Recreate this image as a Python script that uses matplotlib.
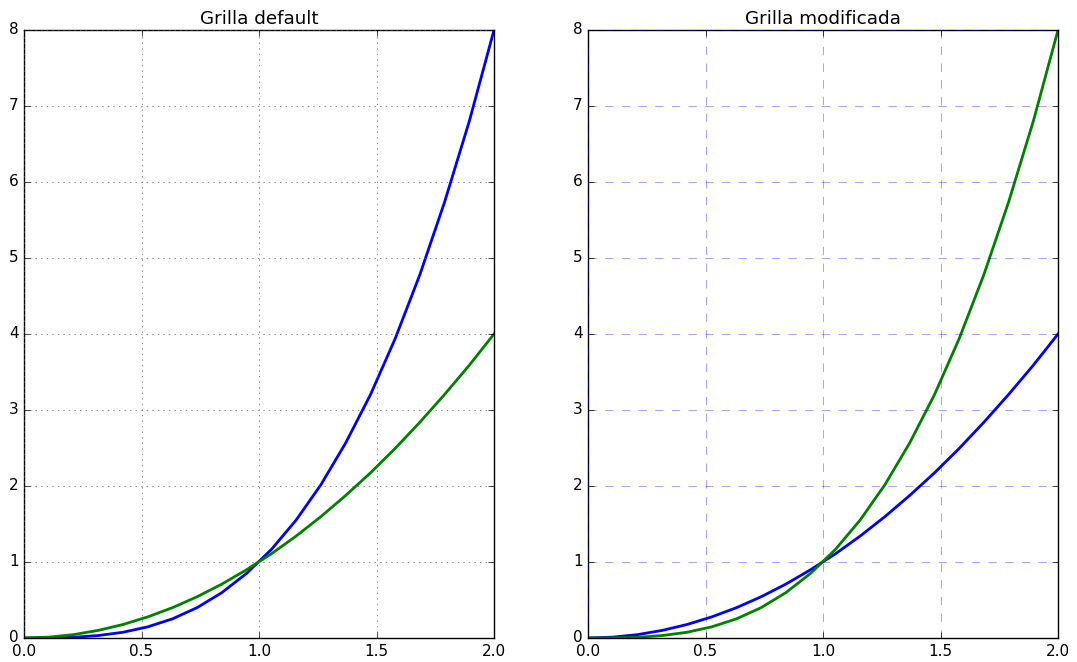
import matplotlib
matplotlib.use('Agg')
import matplotlib.pyplot as plt

plt.style.use('classic')
plt.rcParams['font.size'] = 11

# valores (20 puntos entre 0 y 2)
x = [0.0, 0.105, 0.211, 0.316, 0.421, 0.526, 0.632, 0.737, 0.842, 0.947,
     1.053, 1.158, 1.263, 1.368, 1.474, 1.579, 1.684, 1.789, 1.895, 2.0]
y_cuad = [0.0, 0.011, 0.044, 0.100, 0.177, 0.277, 0.399, 0.543, 0.709, 0.898,
          1.108, 1.341, 1.596, 1.873, 2.172, 2.493, 2.837, 3.202, 3.590, 4.0]
y_cubo = [0.0, 0.001, 0.009, 0.032, 0.075, 0.146, 0.252, 0.400, 0.597, 0.850,
          1.166, 1.552, 2.015, 2.562, 3.200, 3.936, 4.777, 5.730, 6.802, 8.0]

fig, axes = plt.subplots(1, 2, figsize=(10.77, 6.62), dpi=100, facecolor='white')
fig.subplots_adjust(left=0.0223, right=0.9824, bottom=0.0363, top=0.9547, wspace=0.2)

axes[0].plot(x, y_cubo, color='b', lw=2)
axes[0].plot(x, y_cuad, color='g', lw=2)
axes[0].grid(True, color='0.35')
axes[0].set_title('Grilla default', pad=4.5)

axes[1].plot(x, y_cuad, color='b', lw=2)
axes[1].plot(x, y_cubo, color='g', lw=2)
axes[1].grid(color='b', alpha=0.5, linestyle='dashed', linewidth=0.5)
axes[1].set_title('Grilla modificada', pad=4.5)

for ax in axes:
    ax.set_xlim(0, 2)
    ax.set_ylim(0, 8)

fig.savefig('out.png', dpi=100, facecolor='white')
